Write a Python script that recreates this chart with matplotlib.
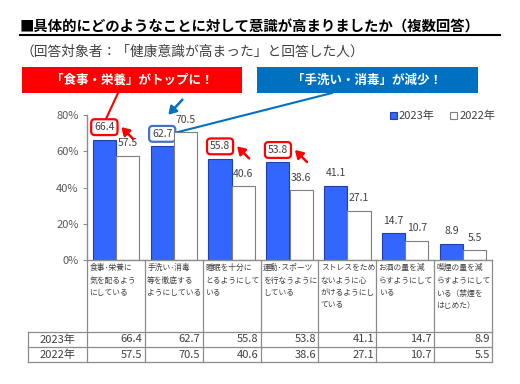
import numpy as np
import matplotlib
matplotlib.use('Agg')
import matplotlib.pyplot as plt
from matplotlib import transforms
from matplotlib.patches import Rectangle

plt.rcParams['font.family'] = ['Noto Sans CJK JP', 'DejaVu Sans']

# ---------------- data ----------------
categories = [
    "食事･栄養に\n気を配るよう\nにしている",
    "手洗い･消毒\n等を徹底する\nようにしている",
    "睡眠を十分に\nとるようにして\nいる",
    "運動･スポーツ\nを行なうように\nしている",
    "ストレスをため\nないように心\nがけるようにし\nている",
    "お酒の量を減\nらすようにして\nいる",
    "喫煙の量を減\nらすようにして\nいる（禁煙を\nはじめた）",
]
series_names = ["2023年", "2022年"]
v2023 = [66.4, 62.7, 55.8, 53.8, 41.1, 14.7, 8.9]
v2022 = [57.5, 70.5, 40.6, 38.6, 27.1, 10.7, 5.5]
yticks = [0, 20, 40, 60, 80]
ytick_labels = ["0%", "20%", "40%", "60%", "80%"]
title = "■具体的にどのようなことに対して意識が高まりましたか（複数回答）"
subtitle = "（回答対象者：「健康意識が高まった」と回答した人）"
banner_red = "「食事・栄養」がトップに！"
banner_blue = "「手洗い・消毒」が減少！"
highlight_red = [0, 2, 3]   # 2023 values boxed in red
highlight_blue = [1]        # 2023 value boxed in blue

# ---------------- layout ----------------
W, H = 520, 384
C_BLUE = '#3366FF'
C_RED = '#FF0000'
C_BANNER_BLUE = '#0070C0'
C_TEXT = '#404040'
C_LINE = '#8C8C8C'

fig = plt.figure(figsize=(W / 100, H / 100), dpi=100)
ov = fig.add_axes([0, 0, 1, 1])
ov.set_xlim(0, W)
ov.set_ylim(H, 0)
ov.axis('off')

ax_l, ax_r, ax_b, ax_t = 87, 492, 260, 115
ax = fig.add_axes([ax_l / W, 1 - ax_b / H, (ax_r - ax_l) / W, (ax_b - ax_t) / H])
ax.patch.set_alpha(0)
n = len(categories)
ax.set_xlim(0, n)
ax.set_ylim(0, 80)
x = np.arange(n) + 0.5
bw = 0.4
b1 = ax.bar(x - bw / 2, v2023, bw, color=C_BLUE, edgecolor='#1F3FB0', lw=0.8,
            label=series_names[0], zorder=2)
b2 = ax.bar(x + bw / 2, v2022, bw, color='white', edgecolor='#7F7F7F', lw=0.8,
            label=series_names[1], zorder=2)

for s in ['top', 'right']:
    ax.spines[s].set_visible(False)
for s in ['left', 'bottom']:
    ax.spines[s].set_color(C_LINE)
    ax.spines[s].set_linewidth(1.0)
ax.set_yticks(yticks, ytick_labels)
ax.tick_params(axis='y', direction='out', length=3, color=C_LINE, labelsize=8,
               labelcolor='#595959', pad=3)
ax.set_xticks(range(n + 1))
ax.tick_params(axis='x', length=0, labelbottom=False)

# ---------------- value labels ----------------
def to_ov(xd, yd):
    dx, dy = ax.transData.transform((xd, yd))
    return dx, H - dy

lab_off = 12.5  # px above bar top
label_pos_2023 = []
label_pos_2022 = []
for i in range(n):
    for vals, xs, store, idx in ((v2023, x - bw / 2, label_pos_2023, 0),
                                 (v2022, x + bw / 2, label_pos_2022, 1)):
        px, py = to_ov(xs[i], vals[i])
        ly = py - lab_off
        store.append((px, ly))
        bbox = None
        if idx == 0 and i in highlight_red:
            bbox = dict(boxstyle='round,pad=0.28,rounding_size=0.35', fc='white',
                        ec=C_RED, lw=1.6)
        elif idx == 0 and i in highlight_blue:
            bbox = dict(boxstyle='round,pad=0.28,rounding_size=0.35', fc='white',
                        ec='#4472C4', lw=1.6)
        ov.text(px, ly, f"{vals[i]:.1f}", ha='center', va='center', fontsize=7.5,
                color=C_TEXT, bbox=bbox, zorder=5)

# red arrows pointing at highlighted boxes
for i in highlight_red:
    lx, ly = label_pos_2023[i]
    ov.annotate('', xy=(lx + 17, ly + 0), xytext=(lx + 29, ly + 12),
                arrowprops=dict(arrowstyle='-|>,head_length=0.45,head_width=0.28',
                                color=C_RED, lw=1.8, shrinkA=0, shrinkB=0), zorder=6)

# blue arrow at 2022 value of the blue highlighted category
for i in highlight_blue:
    lx, ly = label_pos_2022[i]
    ov.annotate('', xy=(lx - 17, ly - 5), xytext=(lx - 3, ly - 20),
                arrowprops=dict(arrowstyle='-|>,head_length=0.45,head_width=0.28',
                                color=C_BANNER_BLUE, lw=1.8, shrinkA=0, shrinkB=0), zorder=6)

# ---------------- banners ----------------
ov.add_patch(Rectangle((22, 67), 220, 26, fc=C_RED, ec='none', zorder=3))
ov.text(132, 80, banner_red, ha='center', va='center', color='white',
        fontsize=9, fontweight='bold', zorder=4)
ov.add_patch(Rectangle((257, 67), 221, 26, fc=C_BANNER_BLUE, ec='none', zorder=3))
ov.text(367.5, 80, banner_blue, ha='center', va='center', color='white',
        fontsize=9, fontweight='bold', zorder=4)

# connector lines
lx, ly = label_pos_2023[highlight_red[0]]
ov.plot([118, lx + 2], [93, ly - 9], color=C_RED, lw=1.5, zorder=2)
lx, ly = label_pos_2023[highlight_blue[0]]
ov.plot([lx + 12.5, 332], [ly - 1, 93], color=C_BANNER_BLUE, lw=1.5, zorder=2)

# ---------------- titles ----------------
ov.text(20, 27, title, ha='left', va='center', fontsize=10.4, fontweight='bold',
        color='black')
ov.plot([20, 500], [35, 35], color='black', lw=1.5)
ov.text(20, 52, subtitle, ha='left', va='center', fontsize=9.9, color=C_TEXT)

# ---------------- legend ----------------
leg = fig.legend(handles=[b1, b2], labels=series_names, loc='center left',
                 bbox_to_anchor=(390 / W, 1 - 116 / H), ncol=2, frameon=False,
                 fontsize=8, handlelength=0.6, handleheight=0.6, handletextpad=0.2,
                 columnspacing=1.4, borderpad=0, borderaxespad=0)
for t in leg.get_texts():
    t.set_color(C_TEXT)

# ---------------- data table ----------------
tr = transforms.blended_transform_factory(ax.transData, ov.transData)
row_top, row1, row2 = 332, 347, 362
left_col = 28
for u in range(n + 1):
    ov.plot([u, u], [ax_b, row2], color=C_LINE, lw=0.9, transform=tr, clip_on=False)
for yy in (row_top, row1, row2):
    ov.plot([left_col, ax_r], [yy, yy], color=C_LINE, lw=0.9)
ov.plot([left_col, left_col], [row_top, row2], color=C_LINE, lw=0.9)

for i, cat in enumerate(categories):
    ov.text(i + 0.04, 264, cat, transform=tr, ha='left', va='top', fontsize=5.6,
            linespacing=1.75, color=C_TEXT)
    ov.text(i + 0.96, (row_top + row1) / 2, f"{v2023[i]:.1f}", transform=tr,
            ha='right', va='center', fontsize=8, color=C_TEXT)
    ov.text(i + 0.96, (row1 + row2) / 2, f"{v2022[i]:.1f}", transform=tr,
            ha='right', va='center', fontsize=8, color=C_TEXT)
ov.text((left_col + ax_l) / 2, (row_top + row1) / 2, series_names[0], ha='center',
        va='center', fontsize=8, color=C_TEXT)
ov.text((left_col + ax_l) / 2, (row1 + row2) / 2, series_names[1], ha='center',
        va='center', fontsize=8, color=C_TEXT)

fig.savefig('out.png', dpi=100)
